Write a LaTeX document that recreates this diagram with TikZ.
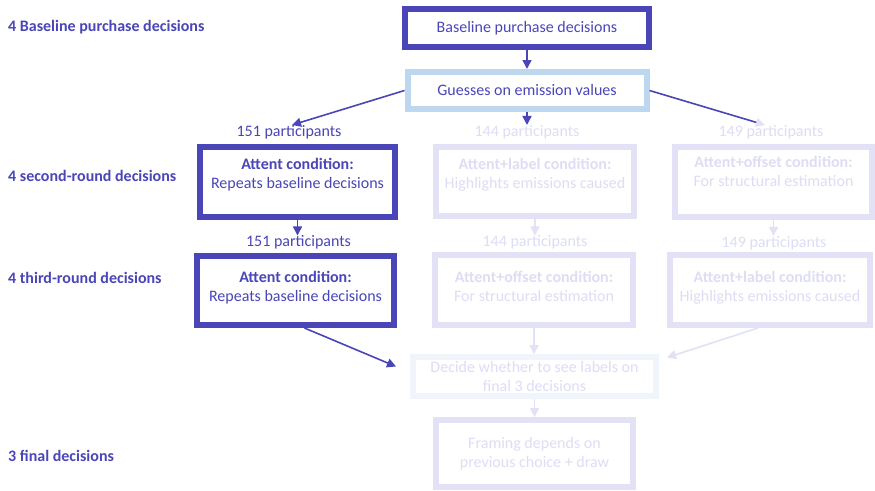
\documentclass[tikz,border=0pt]{standalone}
\usepackage{fontspec}
\setmainfont{Carlito}
\usetikzlibrary{arrows.meta}
\definecolor{ink}{RGB}{74,70,184}
\definecolor{pale}{RGB}{226,225,245}
\definecolor{paletext}{RGB}{222,221,244}
\definecolor{sky}{RGB}{189,215,238}
\definecolor{mist}{RGB}{240,244,251}
\begin{document}
\begin{tikzpicture}[x=1pt,y=-1pt,
  every node/.style={font=\fontsize{16}{19}\selectfont},
  box/.style={draw, line width=6pt, fill=white, align=center, inner sep=0pt},
  darkbox/.style={box, draw=ink, text=ink},
  palebox/.style={box, draw=pale, text=paletext},
  % two-line text sitting in the upper part of a tall box
  textdrop/.style={text height=30pt, text depth=#1},
  count/.style={inner sep=0pt, text=ink},
  palecount/.style={inner sep=0pt, text=paletext},
  rowlabel/.style={anchor=west, inner sep=0pt, text=ink, font=\fontsize{16}{19}\selectfont\bfseries},
  link/.style={line width=1.6pt, draw=ink, -{Triangle[width=9pt,length=9pt]}},
  palelink/.style={line width=1.6pt, draw=pale, -{Triangle[width=9pt,length=9pt]}},
]
\fill[white] (0,0) rectangle (875,490);
\useasboundingbox (0,0) rectangle (875,490);

% row captions on the left
\node[rowlabel] (rl0) at (8,27) {4 Baseline purchase decisions};
\node[rowlabel] (rl1) at (8,176) {4 second-round decisions};
\node[rowlabel] (rl2) at (8,278) {4 third-round decisions};
\node[rowlabel] (rl3) at (8,456) {3 final decisions};

% first stage
\node[darkbox, minimum width=244pt, minimum height=38pt] (base) at (527,28) {Baseline purchase decisions};
\node[box, draw=sky, text=ink, minimum width=239pt, minimum height=37pt] (guess) at (527,90.5) {Guesses on emission values};

% participant counts, first split
\node[count] (c1a) at (289,132) {151 participants};
\node[palecount] (c1b) at (527,132) {144 participants};
\node[palecount] (c1c) at (771,132) {149 participants};

% second-round conditions
\node[darkbox, textdrop=18pt, minimum width=195pt, minimum height=70pt] (attA2) at (297.5,182)
  {\textbf{Attent condition:}\\Repeats baseline decisions};
\node[palebox, textdrop=15.6pt, minimum width=198pt, minimum height=69pt] (attL2) at (535,181.5)
  {\textbf{Attent+label condition:}\\Highlights emissions caused};
\node[palebox, textdrop=20.6pt, minimum width=197pt, minimum height=70pt] (attO2) at (773.5,182)
  {\textbf{Attent+offset condition:}\\For structural estimation};

% participant counts, second split
\node[count] (c2a) at (298.5,242.5) {151 participants};
\node[palecount] (c2b) at (535,242.5) {144 participants};
\node[palecount] (c2c) at (774,243) {149 participants};

% third-round conditions
\node[darkbox, textdrop=9pt, minimum width=197pt, minimum height=69pt] (attA3) at (295.5,290.5)
  {\textbf{Attent condition:}\\Repeats baseline decisions};
\node[palebox, textdrop=8pt, minimum width=198pt, minimum height=70pt] (attO3) at (534,290)
  {\textbf{Attent+offset condition:}\\For structural estimation};
\node[palebox, textdrop=8pt, minimum width=200pt, minimum height=70pt] (attL3) at (770,290)
  {\textbf{Attent+label condition:}\\Highlights emissions caused};

% final stage
\node[box, draw=mist, text=paletext, minimum width=243pt, minimum height=39pt] (dec) at (534.5,376.5)
  {Decide whether to see labels on\\final 3 decisions};
\node[palebox, minimum width=197pt, minimum height=67pt] (fr) at (534.5,453.5)
  {Framing depends on\\previous choice + draw};

% connectors
\draw[link] (base.south) -- (base.south |- guess.north);
\draw[link] (guess.west) -- ([xshift=3pt]c1a.north);
\draw[link] (guess.south) -- (guess.south |- c1b.north);
\draw[line width=1.6pt, draw=ink, -{Triangle[width=9pt,length=9pt,color=pale]}]
  (guess.east) -- ([xshift=-6pt]c1c.north);

\draw[link] (attA2.south) -- (attA2.south |- c2a.north);
\draw[palelink] (attL2.south) -- (attL2.south |- c2b.north);
\draw[palelink] (attO2.south) -- (attO2.south |- c2c.north);

\draw[link] ([xshift=9pt]attA3.south) -- ([shift={(-14,-10)}]dec.west);
\draw[palelink] (attO3.south) -- (attO3.south |- dec.north);
\draw[palelink] ([xshift=-12pt]attL3.south) -- ([shift={(8,-19)}]dec.east);
\draw[palelink] (dec.south) -- (dec.south |- fr.north);
\end{tikzpicture}
\end{document}
